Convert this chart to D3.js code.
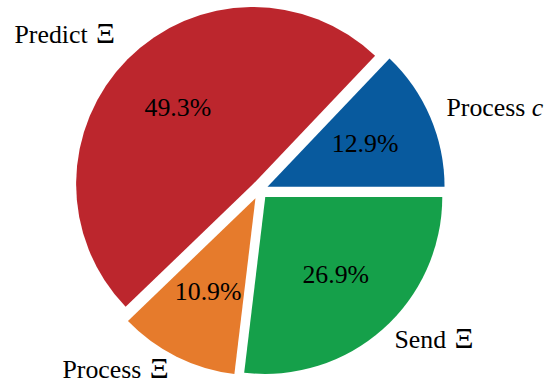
<!DOCTYPE html>
<html>
<head>
<meta charset="utf-8">
<script src="https://cdn.jsdelivr.net/npm/d3@7"></script>
<style>
  html, body { margin: 0; padding: 0; background: #fff; }
  svg { display: block; }
</style>
</head>
<body>
<svg id="chart" width="554" height="389"></svg>
<script>
// Share of time per stage
const labels = ["Process c", "Predict Ξ", "Process Ξ", "Send Ξ"];
const values = [12.9, 49.3, 10.9, 26.9];
const colors = ["#085a9e", "#bc262d", "#e67b2c", "#15a04a"];

const W = 554, H = 389;
const cx = 259.4, cy = 190.3, R = 177;
const explode = 0.05 * R;
const fontSize = 25.8;
const symSize = 29.5;
const serif = "Liberation Serif";
// small vertical tweak per outer label
const labelShift = [0, -9, 0, 0];

const svg = d3.select("#chart");

// Counter-clockwise from 3 o'clock
const pie = d3.pie().sort(null).value(d => d)
  .startAngle(Math.PI / 2).endAngle(Math.PI / 2 - 2 * Math.PI);
const arcs = pie(values);
const arc = d3.arc().innerRadius(0).outerRadius(R);

const g = svg.append("g").attr("transform", `translate(${cx},${cy})`);

const polar = (a, r) => [r * Math.sin(a), -r * Math.cos(a)];
const mid = d => (d.startAngle + d.endAngle) / 2;

const slice = g.selectAll("g.slice").data(arcs).enter().append("g")
  .attr("class", "slice")
  .attr("transform", d => {
    const [dx, dy] = polar(mid(d), explode);
    return `translate(${dx},${dy})`;
  });

slice.append("path")
  .attr("d", arc)
  .attr("fill", (d, i) => colors[i]);

// percentage labels
slice.append("text")
  .attr("text-anchor", "middle")
  .attr("font-family", serif)
  .attr("font-size", fontSize)
  .attr("fill", "#000")
  .attr("x", d => polar(mid(d), 0.6 * R)[0])
  .attr("y", d => polar(mid(d), 0.6 * R)[1])
  .attr("dy", "0.26em")
  .text(d => d.data.toFixed(1) + "%");

// outer category labels; the trailing token is a math symbol
slice.append("text")
  .attr("font-family", serif)
  .attr("font-size", fontSize)
  .attr("fill", "#000")
  .attr("text-anchor", d => polar(mid(d), 1)[0] >= 0 ? "start" : "end")
  .attr("x", d => polar(mid(d), 1.1 * R)[0])
  .attr("y", (d, i) => polar(mid(d), 1.1 * R)[1] + labelShift[i])
  .attr("dy", "0.22em")
  .each(function(d, i) {
    const t = d3.select(this);
    const k = labels[i].lastIndexOf(" ");
    const word = labels[i].slice(0, k + 1);
    const sym = labels[i].slice(k + 1);
    t.append("tspan").text(word);
    const s = t.append("tspan").text(sym);
    if (/^[a-z]$/i.test(sym)) s.attr("font-style", "italic");
    else s.attr("dx", 2).attr("font-size", symSize);
  });
</script>
</body>
</html>
